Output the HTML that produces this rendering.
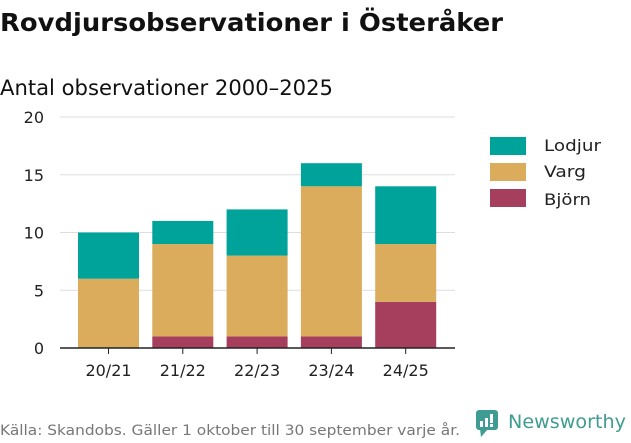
<!DOCTYPE html>
<html><head><meta charset="utf-8"><style>
body{margin:0;background:#fff;font-family:"DejaVu Sans","Liberation Sans",sans-serif;}
svg text{font-family:"DejaVu Sans","Liberation Sans",sans-serif;}
</style></head><body>
<svg id="c" width="631" height="439" xmlns="http://www.w3.org/2000/svg">
<text x="0" y="31" font-size="25" font-weight="bold" fill="#111" textLength="503" lengthAdjust="spacingAndGlyphs">Rovdjursobservationer i Österåker</text>
<text x="0" y="95" font-size="21" fill="#111" textLength="333" lengthAdjust="spacingAndGlyphs">Antal observationer 2000–2025</text>
<g id="grid"></g><g id="bars"></g><g id="xl"></g>
<g>
<rect x="490" y="137" width="36" height="18" fill="#00a39a"/>
<text x="544" y="151" font-size="16" fill="#222" textLength="57" lengthAdjust="spacingAndGlyphs">Lodjur</text>
<rect x="490" y="163" width="36" height="18" fill="#dbac5b"/>
<text x="544" y="177" font-size="16" fill="#222" textLength="42" lengthAdjust="spacingAndGlyphs">Varg</text>
<rect x="490" y="189" width="36" height="18" fill="#a63f5e"/>
<text x="544" y="205" font-size="16" fill="#222" textLength="47" lengthAdjust="spacingAndGlyphs">Björn</text>
</g>
<text x="0" y="435" font-size="14" fill="#777" textLength="460" lengthAdjust="spacingAndGlyphs">Källa: Skandobs. Gäller 1 oktober till 30 september varje år.</text>
<g>
<rect x="476" y="410" width="22" height="20" rx="3" fill="#3f9c92"/>
<polygon points="480,429 488,429 481,437" fill="#3f9c92"/>
<rect x="480" y="421" width="3" height="6" fill="#fff"/><rect x="485" y="418" width="3" height="9" fill="#fff"/><rect x="490" y="414" width="3" height="9" fill="#fff"/><rect x="490" y="424" width="3" height="3" fill="#fff"/>
<text x="508" y="428" font-size="19" fill="#3f9c92" textLength="118" lengthAdjust="spacingAndGlyphs">Newsworthy</text>
</g>
</svg>
<script>
const categories=["20/21","21/22","22/23","23/24","24/25"];
const bjorn=[0,1,1,1,4];
const varg=[6,8,7,13,5];
const lodjur=[4,2,4,2,5];
const yTicks=[0,5,10,15,20];
const NS="http://www.w3.org/2000/svg";
const y=v=>348-v*(231/20);
const x=i=>78+i*74.3;
const bw=61;
const grid=document.getElementById('grid'),bars=document.getElementById('bars'),xl=document.getElementById('xl');
function mk(tag,a,p){const e=document.createElementNS(NS,tag);for(const k in a)e.setAttribute(k,a[k]);p.appendChild(e);return e;}
yTicks.forEach(t=>{
 if(t>0){const l=mk('line',{x1:60,x2:455,y1:y(t),y2:y(t),stroke:'#ddd','stroke-width':1},grid);
 
 }
 const tx=mk('text',{x:44,y:y(t)+6,'text-anchor':'end','font-size':16,fill:'#222'},grid);tx.textContent=t;
 
 
});
const series=[[bjorn,'#a63f5e','bjorn'],[varg,'#dbac5b','varg'],[lodjur,'#00a39a','lodjur']];
categories.forEach((c,i)=>{
 let base=0;
 series.forEach(([arr,col,nm])=>{
  const v=arr[i];if(v>0){
  const r=mk('rect',{x:x(i),y:y(base+v),width:bw,height:y(base)-y(base+v),fill:col},bars);
  
  }
  base+=v;
 });
 const t=mk('text',{x:x(i)+bw/2,y:376,'text-anchor':'middle','font-size':16,fill:'#222'},xl);t.textContent=c;
 
 
 const tk=mk('line',{x1:x(i)+bw/2,x2:x(i)+bw/2,y1:348,y2:354,stroke:'#222'},xl);
 
 
});
const ax=mk('line',{x1:60,x2:455,y1:348,y2:348,stroke:'#222','stroke-width':1.5},xl);


</script>
</body></html>
